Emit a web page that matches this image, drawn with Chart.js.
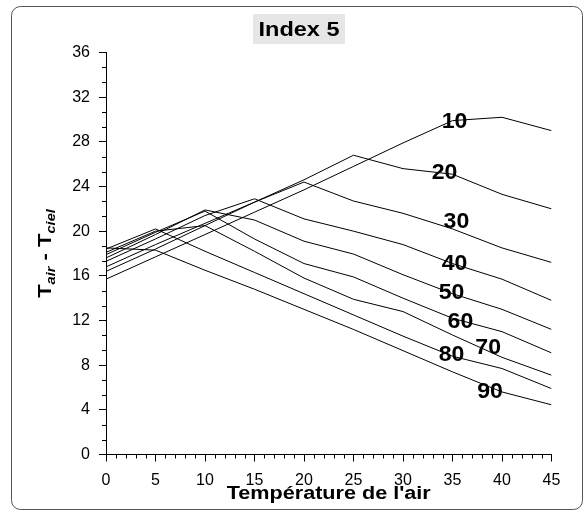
<!DOCTYPE html>
<html><head><meta charset="utf-8">
<script src="https://cdn.jsdelivr.net/npm/chart.js@4/dist/chart.umd.min.js"></script>
<style>html,body{margin:0;padding:0;background:#fff}#wrap{width:586px;height:516px;position:relative}</style>
</head><body><div id="wrap"><canvas id="c" width="586" height="516"></canvas></div>
<script>
// ---- data ----
const xValues = [0, 5, 10, 15, 20, 25, 30, 35, 40, 45];
const seriesNames = ['10', '20', '30', '40', '50', '60', '70', '80', '90'];
const s10 = [15.7, 17.7, 19.7, 21.7, 23.7, 25.8, 27.9, 29.9, 30.2, 29.0];
const s20 = [16.4, 18.4, 20.5, 22.6, 24.6, 26.8, 25.6, 25.1, 23.3, 22.0];
const s30 = [16.8, 18.8, 20.7, 22.6, 24.4, 22.7, 21.6, 20.2, 18.5, 17.2];
const s40 = [17.3, 19.3, 21.4, 22.9, 21.1, 20.0, 18.8, 17.1, 15.7, 13.8];
const s50 = [17.6, 19.7, 21.9, 21.0, 19.1, 17.95, 16.1, 14.4, 13.0, 11.2];
const s60 = [17.9, 19.9, 21.8, 19.3, 17.1, 15.9, 14.0, 12.2, 11.0, 9.1];
const s70 = [18.1, 20.0, 20.5, 18.2, 15.8, 13.9, 12.8, 10.7, 8.7, 7.1];
const s80 = [18.4, 20.2, 18.2, 16.3, 14.4, 12.5, 10.6, 8.8, 7.7, 5.9];
const s90 = [18.5, 18.3, 16.5, 14.8, 13.0, 11.2, 9.3, 7.4, 5.6, 4.45];
const seriesValues = [s10, s20, s30, s40, s50, s60, s70, s80, s90];
// curve label anchors (data units)
const labelAnchorX = [35.2, 34.2, 35.4, 35.2, 34.9, 35.8, 38.6, 34.9, 38.8];
const labelAnchorY = [29.8, 25.2, 20.8, 17.05, 14.45, 11.9, 9.5, 8.9, 5.6];
const xTickStep = 5, xMin = 0, xMax = 45;
const yTickStep = 4, yMin = 0, yMax = 36;
const chartTitle = 'Index 5';
const xTitle = "Température de l'air";

// ---- helpers ----
function stretchedText(ctx, text, x, y, font, sx, align) {
  ctx.save();
  ctx.font = font;
  const w = ctx.measureText(text).width * sx;
  let x0 = x;
  if (align === 'center') x0 = x - w / 2;
  else if (align === 'right') x0 = x - w;
  ctx.translate(x0, y);
  ctx.scale(sx, 1);
  ctx.textAlign = 'left';
  ctx.fillText(text, 0, 0);
  ctx.restore();
  return w;
}

const decor = {
  id: 'decor',
  afterDraw(chart) {
    const ctx = chart.ctx, xs = chart.scales.x, ys = chart.scales.y;
    ctx.save();
    // outer frame
    ctx.strokeStyle = '#555'; ctx.lineWidth = 1;
    ctx.beginPath();
    ctx.roundRect(11.5, 6.5, 571, 503, 9);
    ctx.stroke();
    // minor ticks
    ctx.strokeStyle = '#000';
    ctx.beginPath();
    for (let v = xMin + 1; v < xMax; v++) {
      if (v % xTickStep === 0) continue;
      const px = Math.round(xs.getPixelForValue(v)) + 0.5;
      ctx.moveTo(px, ys.bottom); ctx.lineTo(px, ys.bottom + 4);
    }
    for (let k = 1; k < 27; k++) {
      if (k % 3 === 0) continue;
      const py = Math.round(ys.getPixelForValue(k * yTickStep / 3)) + 0.5;
      ctx.moveTo(xs.left - 4, py); ctx.lineTo(xs.left, py);
    }
    ctx.stroke();
    // title box
    ctx.fillStyle = '#e6e6e6';
    ctx.fillRect(253, 14, 92, 30);
    ctx.fillStyle = '#000';
    ctx.textBaseline = 'middle';
    stretchedText(ctx, chartTitle, 299, 30, 'bold 21px "Liberation Sans", Arial, sans-serif', 1.12, 'center');
    // x title
    stretchedText(ctx, xTitle, (xs.left + xs.right) / 2, 494, 'bold 18px "Liberation Sans", Arial, sans-serif', 1.2, 'center');
    // y title with subscripts
    ctx.save();
    ctx.translate(51, (ys.top + ys.bottom) / 2);
    ctx.rotate(-Math.PI / 2);
    ctx.textBaseline = 'alphabetic';
    const sx = 1.22;
    const parts = [
      ['T', 'bold 18px "Liberation Sans", Arial, sans-serif', 0],
      ['air', 'italic bold 12px "Liberation Sans", Arial, sans-serif', 4],
      [' - T', 'bold 18px "Liberation Sans", Arial, sans-serif', 0],
      ['ciel', 'italic bold 12px "Liberation Sans", Arial, sans-serif', 4]
    ];
    let total = 0;
    for (const p of parts) { ctx.font = p[1]; total += ctx.measureText(p[0]).width * sx; }
    let cx = -total / 2;
    for (const p of parts) {
      ctx.save(); ctx.font = p[1];
      const w = ctx.measureText(p[0]).width;
      ctx.translate(cx, p[2]); ctx.scale(sx, 1);
      ctx.fillText(p[0], 0, 0); ctx.restore();
      cx += w * sx;
    }
    ctx.restore();
    // curve labels
    ctx.textBaseline = 'middle';
    for (let i = 0; i < seriesNames.length; i++) {
      const px = xs.getPixelForValue(labelAnchorX[i]);
      const py = ys.getPixelForValue(labelAnchorY[i]);
      stretchedText(ctx, seriesNames[i], px, py, 'bold 22px "Liberation Sans", Arial, sans-serif', 1.05, 'center');
    }
    ctx.restore();
  }
};

const datasets = seriesValues.map((vals, i) => ({
  label: seriesNames[i],
  data: xValues.map((x, j) => ({ x: x, y: vals[j] })),
  borderColor: '#000',
  borderWidth: 1,
  pointRadius: 0,
  fill: false,
  tension: 0
}));

new Chart(document.getElementById('c'), {
  type: 'line',
  data: { datasets },
  options: {
    responsive: false,
    animation: false,
    events: [],
    layout: { padding: { left: 0, right: 34.5, top: 52.5, bottom: 0 } },
    plugins: { legend: { display: false }, title: { display: false }, tooltip: { enabled: false } },
    scales: {
      x: {
        type: 'linear', min: xMin, max: xMax,
        afterFit(s) { s.height = 61.5; },
        border: { color: '#000', width: 1 },
        grid: { display: true, drawOnChartArea: false, drawTicks: true, tickLength: 7, tickColor: '#000' },
        ticks: { stepSize: xTickStep, color: '#000', padding: 9, font: { family: '"Liberation Sans", Arial, sans-serif', size: 16 }, maxRotation: 0, autoSkip: false }
      },
      y: {
        type: 'linear', min: yMin, max: yMax,
        afterFit(s) { s.width = 106; },
        border: { color: '#000', width: 1 },
        grid: { display: true, drawOnChartArea: false, drawTicks: true, tickLength: 7, tickColor: '#000' },
        ticks: { stepSize: yTickStep, color: '#000', padding: 9, font: { family: '"Liberation Sans", Arial, sans-serif', size: 16 } }
      }
    }
  },
  plugins: [decor]
});
</script></body></html>
